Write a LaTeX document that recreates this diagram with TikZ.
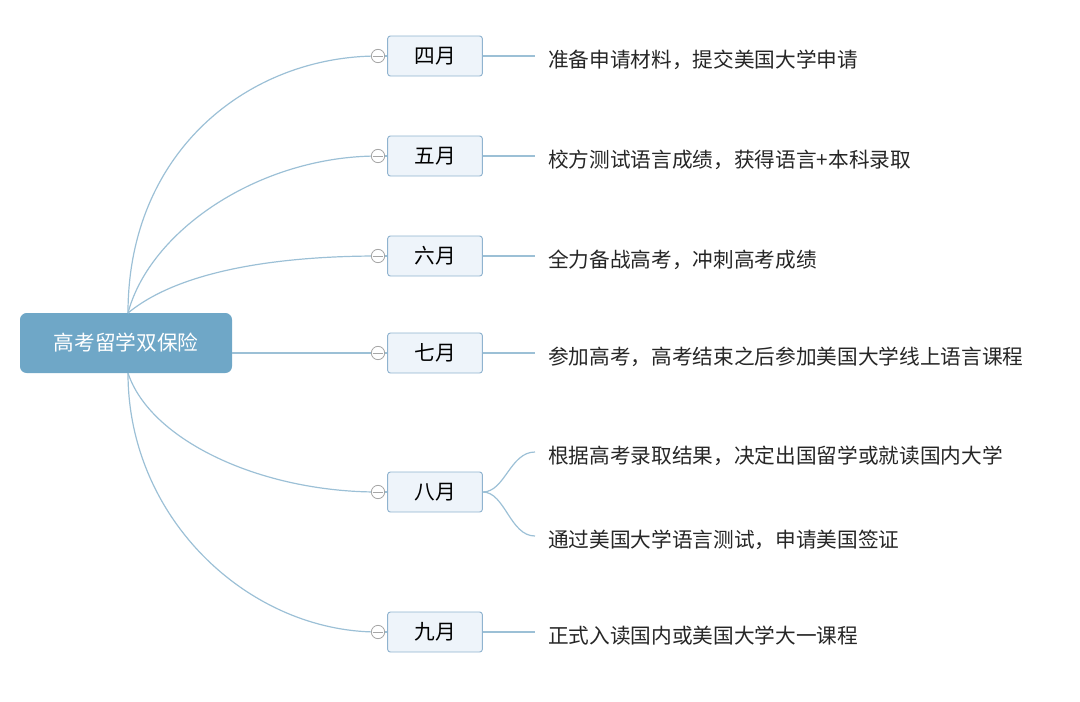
\documentclass[tikz,border=0pt]{standalone}
\usepackage{fontspec}
\newfontfamily\cjk{Noto Sans CJK SC}
\begin{document}
\begin{tikzpicture}[x=0.75pt,y=-0.75pt,
 conn/.style={draw=linec,line width=0.9pt},
 month/.style={draw=boxb,fill=boxf,rounded corners=2pt,minimum width=71pt,minimum height=30pt,font=\cjk\fontsize{15.5}{15.5}\selectfont,line width=0.7pt},
 leaf/.style={anchor=west,inner sep=0pt,font=\cjk\fontsize{15.5}{15.5}\selectfont,text=black!85},
 knob/.style={circle,draw=gray!70,fill=white,inner sep=0pt,minimum size=10pt,line width=0.6pt}]
\definecolor{linec}{HTML}{9CC0D6}
\definecolor{boxb}{HTML}{8FB3CF}
\definecolor{boxf}{HTML}{EEF4FA}
\definecolor{rootf}{HTML}{6FA7C7}
\useasboundingbox (0,0) rectangle (1080,701);
\node[fill=rootf,rounded corners=5pt,minimum width=159pt,minimum height=45pt,text=white,font=\cjk\fontsize{15.5}{15.5}\selectfont] (root) at (126,343) {高考留学双保险};
\foreach \n/\y/\t in {a/56/四月,b/156/五月,c/256/六月,d/353/七月,e/492/八月,f/632/九月}{
  \node[month] (\n) at (435,\y) {\t};
  \coordinate (k\n) at (378,\y);
}
\coordinate (rt) at (128,313);
\coordinate (rb) at (128,373);
\draw[conn] (rt) .. controls (128,150) and (250,56) .. (ka);
\draw[conn] (rt) .. controls (150,230) and (260,156) .. (kb);
\draw[conn] (rt) .. controls (180,270) and (280,256) .. (kc);
\draw[conn] (root.east |- kd) -- (kd);
\draw[conn] (rb) .. controls (150,440) and (260,492) .. (ke);
\draw[conn] (rb) .. controls (128,520) and (250,632) .. (kf);
\foreach \n in {a,b,c,d,e,f}{
  \draw[conn] (k\n) -- (\n.west);
  \node[knob] at (k\n) {};
  \draw[gray!70,line width=0.6pt] ([xshift=-4pt]k\n) -- ([xshift=4pt]k\n);
}
\node[leaf] (ta) at (548,60) {准备申请材料，提交美国大学申请};
\node[leaf] (tb) at (548,160) {校方测试语言成绩，获得语言+本科录取};
\node[leaf] (tc) at (548,260) {全力备战高考，冲刺高考成绩};
\node[leaf] (td) at (548,357) {参加高考，高考结束之后参加美国大学线上语言课程};
\node[leaf] (te1) at (548,456) {根据高考录取结果，决定出国留学或就读国内大学};
\node[leaf] (te2) at (548,540) {通过美国大学语言测试，申请美国签证};
\node[leaf] (tf) at (548,636) {正式入读国内或美国大学大一课程};
\foreach \n in {a,b,c,d,f}{ \draw[conn] (\n.east) -- (535,0 |- \n); }
\draw[conn] (e.east) .. controls (505,492) and (510,452) .. (535,452);
\draw[conn] (e.east) .. controls (505,492) and (510,536) .. (535,536);
\end{tikzpicture}
\end{document}
